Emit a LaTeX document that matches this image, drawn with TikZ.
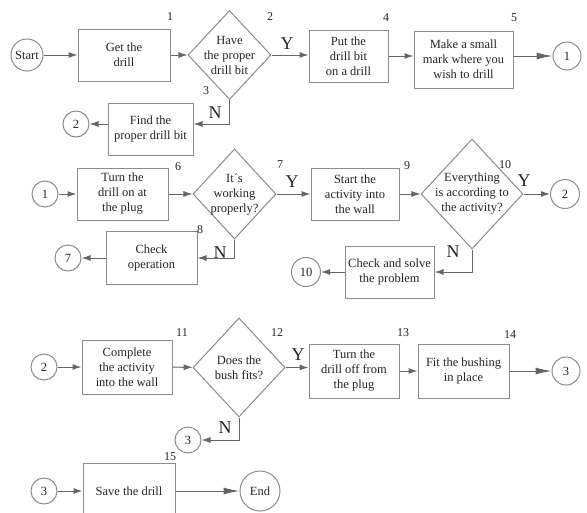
\documentclass[tikz,border=0pt]{standalone}
\usepackage{fontspec}
\setmainfont{Liberation Serif}
\usetikzlibrary{arrows.meta, shapes.geometric}
\definecolor{lineclr}{gray}{0.55}
\definecolor{textclr}{gray}{0.15}

\tikzset{
	stepbox/.style={draw=lineclr, line width=1pt, align=center, inner sep=0pt, text=textclr, font=\fontsize{12.5}{15}\selectfont},
	decision/.style={draw=lineclr, line width=1pt, diamond, inner sep=0pt},
	dectext/.style={align=center, inner sep=0pt, text=textclr, font=\fontsize{12.5}{15}\selectfont},
	link/.style={draw=lineclr, line width=1pt, circle, inner sep=0pt, text=textclr, font=\fontsize{12.5}{15}\selectfont},
	flow/.style={draw=black!60, line width=1pt, -{Latex[length=9pt, width=6pt]}},
	longflow/.style={flow, -{Latex[length=16pt, width=7pt]}},
	stepnum/.style={inner sep=0pt, text=textclr, font=\fontsize{12}{12}\selectfont},
	answer/.style={inner sep=0pt, text=textclr, font=\fontsize{18}{18}\selectfont}
}

\begin{document}
\begin{tikzpicture}[x=1pt, y=-1pt]
			\clip (0,0) rectangle (587,512);
			\fill[white] (0,0) rectangle (587,512);

			\node[link, minimum size=32pt] (start) at (27,55) {Start};
			\node[stepbox, minimum width=92pt, minimum height=52pt] (get) at (124,55) {Get the\\drill};
			\node[decision, minimum width=83pt, minimum height=89pt] (d2) at (229.5,55) {};
			\node[dectext] (t2) at (d2) {Have\\the proper\\drill bit};
			\node[stepbox, minimum width=79pt, minimum height=52pt] (put) at (348.5,56) {Put the\\drill bit\\on a drill};
			\node[stepbox, minimum width=99pt, minimum height=57pt] (mark) at (463.5,59.5) {Make a small\\mark where you\\wish to drill};
			\node[link, minimum size=28pt] (c1a) at (567,56) {1};
			\node[stepbox, minimum width=85pt, minimum height=52pt] (find) at (150.5,129) {Find the\\proper drill bit};
			\node[link, minimum size=26pt] (c2a) at (76,124) {2};

			\node[link, minimum size=26pt] (c1b) at (45,194) {1};
			\node[stepbox, minimum width=91pt, minimum height=52pt] (turnon) at (122.5,194) {Turn the\\drill on at\\the plug};
			\node[decision, minimum width=83pt, minimum height=90pt] (d7) at (234.5,194) {};
			\node[dectext] (t7) at (d7) {It´s\\working\\properly?};
			\node[stepbox, minimum width=88pt, minimum height=52pt] (act) at (355,194) {Start the\\activity into\\the wall};
			\node[decision, minimum width=102pt, minimum height=110pt] (d10) at (472,194) {};
			\node[dectext] (t10) at (d10) {Everything\\is according to\\the activity?};
			\node[link, minimum size=29pt] (c2b) at (565,194) {2};
			\node[stepbox, minimum width=91pt, minimum height=53pt] (check) at (151.5,258) {Check\\operation};
			\node[link, minimum size=26pt] (c7) at (68,258) {7};
			\node[stepbox, minimum width=89pt, minimum height=52pt] (solve) at (389.5,272) {Check and solve\\the problem};
			\node[link, minimum size=29pt] (c10) at (306,272) {10};

			\node[link, minimum size=26pt] (c2c) at (44,367) {2};
			\node[stepbox, minimum width=90pt, minimum height=54pt] (compl) at (127,367) {Complete\\the activity\\into the wall};
			\node[decision, minimum width=92pt, minimum height=99pt] (d12) at (239,367.5) {};
			\node[dectext] (t12) at (d12) {Does the\\bush fits?};
			\node[stepbox, minimum width=90pt, minimum height=54pt] (turnoff) at (354,371) {Turn the\\drill off from\\the plug};
			\node[stepbox, minimum width=91pt, minimum height=54pt] (fit) at (463.5,371) {Fit the bushing\\in place};
			\node[link, minimum size=28pt] (c3a) at (566,371) {3};
			\node[link, minimum size=26pt] (c3b) at (188,440) {3};

			\node[link, minimum size=26pt] (c3c) at (44,491) {3};
			\node[stepbox, minimum width=92pt, minimum height=56pt] (save) at (129,491) {Save the drill};
			\node[link, minimum size=40pt] (endc) at (260,491) {End};

			\draw[flow] (start) -- (get);
			\draw[flow] (get) -- (d2);
			\draw[flow] (d2) -- (d2.east -| put.west);
			\draw[flow] (put.east) -- (put.east -| mark.west);
			\draw[longflow] (mark.east |- c1a) -- (c1a);
			\draw[flow] (d2.south) |- ([yshift=5pt]find.east);
			\draw[flow] ([yshift=5pt]find.west) -- (c2a);

			\draw[flow] (c1b) -- (turnon);
			\draw[flow] (turnon) -- (d7);
			\draw[flow] (d7) -- (act);
			\draw[flow] (act) -- (d10);
			\draw[flow] (d10) -- (c2b);
			\draw[flow] (d7.south) |- (check.east);
			\draw[flow] (check) -- (c7);
			\draw[flow] (d10.south) |- (solve.east);
			\draw[flow] (solve) -- (c10);

			\draw[flow] (c2c) -- (compl);
			\draw[flow] (compl) -- (d12);
			\draw[flow] (d12.east) -- (d12.east -| turnoff.west);
			\draw[flow] (turnoff) -- (fit);
			\draw[longflow] (fit) -- (c3a);
			\draw[flow] (d12.south) |- (c3b);

			\draw[flow] (c3c) -- (save);
			\draw[longflow] (save) -- (endc);

			\node[stepnum] (n1) at (170,17) {1};
			\node[stepnum] (n2) at (270,17) {2};
			\node[stepnum] (n3) at (206,91) {3};
			\node[stepnum] (n4) at (386,18) {4};
			\node[stepnum] (n5) at (514,18) {5};
			\node[stepnum] (n6) at (178,167) {6};
			\node[stepnum] (n7) at (280,165) {7};
			\node[stepnum] (n8) at (200,230) {8};
			\node[stepnum] (n9) at (407,166) {9};
			\node[stepnum] (n10) at (505,165) {10};
			\node[stepnum] (n11) at (182,333) {11};
			\node[stepnum] (n12) at (277,333) {12};
			\node[stepnum] (n13) at (403,333) {13};
			\node[stepnum] (n14) at (510,335) {14};
			\node[stepnum] (n15) at (170,457) {15};

			\node[answer] (y2) at (287,44) {Y};
			\node[answer] (no2) at (215,113) {N};
			\node[answer] (y7) at (292,182) {Y};
			\node[answer] (no7) at (220,253) {N};
			\node[answer] (y10) at (524,181) {Y};
			\node[answer] (no10) at (453,252) {N};
			\node[answer] (y12) at (298,355) {Y};
			\node[answer] (no12) at (225,428) {N};
		\end{tikzpicture}
\end{document}
